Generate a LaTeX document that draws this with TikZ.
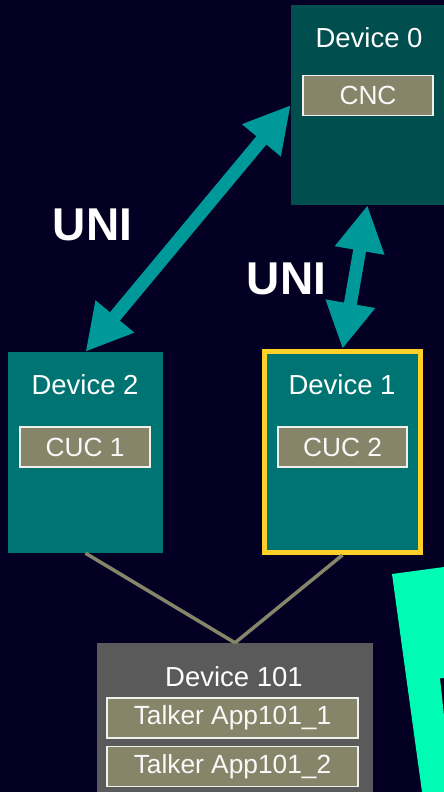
\documentclass[tikz,border=0pt]{standalone}
\usepackage{fontspec}
\setmainfont{Liberation Sans}
\definecolor{NightBlue}{RGB}{3,0,35}
\definecolor{DeepTeal}{RGB}{0,78,78}
\definecolor{MidTeal}{RGB}{0,115,115}
\definecolor{LinkTeal}{RGB}{0,153,153}
\definecolor{OliveGray}{RGB}{134,133,106}
\definecolor{HostGray}{RGB}{90,90,90}
\definecolor{MarkYellow}{RGB}{255,208,40}
\definecolor{SpringGreen}{RGB}{0,252,180}
\usepackage{tikz}
\usetikzlibrary{positioning, arrows.meta}

\tikzset{
  devbox/.style={rectangle, inner sep=0pt, minimum width=#1},
  devlabel/.style={text=white, font=\fontsize{27.5}{31}\selectfont},
  appbox/.style={rectangle, draw=white!88!OliveGray, line width=1.3pt, fill=OliveGray,
    text=white!95!OliveGray, inner sep=0pt, minimum height=40pt, font=\fontsize{26.3}{30}\selectfont},
  unilink/.style={LinkTeal, line width=13pt, {Triangle[length=46pt,width=47pt]}-{Triangle[length=46pt,width=47pt]}},
  unilabel/.style={text=white, font=\bfseries\fontsize{46}{50}\selectfont},
  hostline/.style={OliveGray, line width=3.5pt}
}

\begin{document}
\begin{tikzpicture}[x=1pt, y=-1pt]
          \useasboundingbox (0,0) rectangle (444,792);
          \fill[NightBlue] (0,0) rectangle (444,792);
          \clip (0,0) rectangle (444,792);
          % background shape at the lower right
          \fill[SpringGreen] (392,574) -- (444,567) -- (444,678) -- (440,678) -- (452,792) -- (422,792) -- cycle;
          % devices
          \node[devbox=153pt, minimum height=200pt, fill=DeepTeal] (dev0) at (367.5,105) {};
          \node[devbox=155pt, minimum height=201pt, fill=MidTeal] (dev2) at (85.5,452.5) {};
          \node[devbox=156pt, minimum height=201pt, fill=MidTeal, draw=MarkYellow, line width=5pt] (dev1) at (342.5,452) {};
          \node[devbox=276pt, minimum height=170pt, fill=HostGray] (dev101) at (235,728) {};
          \node[devlabel] (dev0t) at (369,38) {Device 0};
          \node[devlabel] (dev2t) at (85,385) {Device 2};
          \node[devlabel] (dev1t) at (342,385) {Device 1};
          \node[devlabel] (dev101t) at (234,677) {Device 101};
          % applications
          \node[appbox, minimum width=130pt] (cnc) at (368,95.5) {CNC};
          \node[appbox, minimum width=130pt] (cuc1) at (85,447) {CUC 1};
          \node[appbox, minimum width=129pt] (cuc2) at (342.5,447) {CUC 2};
          \node[appbox, minimum width=251pt] (talk1) at (232.5,718) {Talker App101\_1};
          \node[appbox, minimum width=251pt] (talk2) at (232.5,766.5) {Talker App101\_2};
          % links
          \draw[hostline] (dev2.south) -- (dev101.north);
          \draw[hostline] (dev1.south) -- (dev101.north);
          \draw[unilink] (dev2.north) -- (dev0.west);
          \draw[unilink] (dev1.north) -- (dev0.south);
          \node[unilabel] (uni1) at (92.5,224.5) {UNI};
          \node[unilabel] (uni2) at (286.5,279) {UNI};
        \end{tikzpicture}
\end{document}
